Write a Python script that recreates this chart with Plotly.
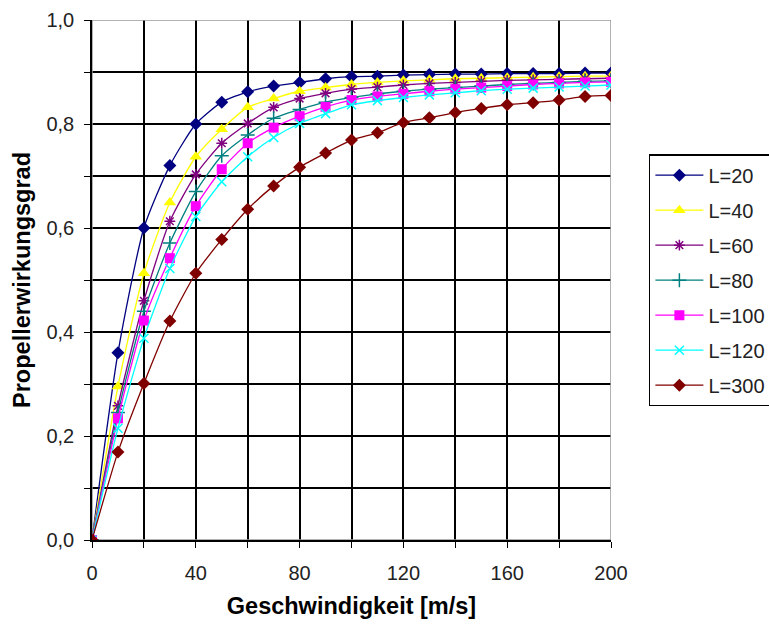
import plotly.graph_objects as go

speed = [0, 10, 20, 30, 40, 50, 60, 70, 80, 90, 100, 110, 120, 130, 140, 150, 160, 170, 180, 190, 200]

eta_L20 = [0, 0.36, 0.60, 0.72, 0.80, 0.842, 0.862, 0.873, 0.880, 0.887, 0.891, 0.892, 0.894, 0.895, 0.896, 0.896, 0.897, 0.897, 0.897, 0.898, 0.898]
eta_L40 = [0, 0.295, 0.513, 0.649, 0.737, 0.790, 0.832, 0.849, 0.863, 0.870, 0.876, 0.880, 0.883, 0.885, 0.887, 0.888, 0.889, 0.890, 0.891, 0.892, 0.892]
eta_L60 = [0, 0.258, 0.460, 0.613, 0.703, 0.763, 0.801, 0.832, 0.849, 0.859, 0.867, 0.871, 0.875, 0.878, 0.880, 0.882, 0.884, 0.885, 0.886, 0.887, 0.888]
eta_L80 = [0, 0.245, 0.440, 0.571, 0.670, 0.739, 0.779, 0.811, 0.828, 0.842, 0.851, 0.858, 0.863, 0.867, 0.870, 0.873, 0.876, 0.878, 0.880, 0.882, 0.883]
eta_L100 = [0, 0.234, 0.422, 0.542, 0.642, 0.713, 0.763, 0.793, 0.815, 0.833, 0.846, 0.853, 0.858, 0.863, 0.867, 0.870, 0.873, 0.876, 0.878, 0.880, 0.881]
eta_L120 = [0, 0.215, 0.388, 0.522, 0.622, 0.689, 0.737, 0.774, 0.801, 0.820, 0.837, 0.845, 0.851, 0.856, 0.860, 0.864, 0.867, 0.869, 0.871, 0.873, 0.875]
eta_L300 = [0, 0.169, 0.301, 0.421, 0.513, 0.578, 0.636, 0.681, 0.717, 0.744, 0.769, 0.783, 0.803, 0.812, 0.822, 0.830, 0.837, 0.841, 0.846, 0.853, 0.855]

series_names = ["L=20", "L=40", "L=60", "L=80", "L=100", "L=120", "L=300"]
series_values = [eta_L20, eta_L40, eta_L60, eta_L80, eta_L100, eta_L120, eta_L300]
colors = ["#000080", "#FFFF00", "#800080", "#008080", "#FF00FF", "#00FFFF", "#800000"]
symbols = ["diamond", "triangle-up", "asterisk-open", "cross-thin-open", "square", "x-thin-open", "diamond"]
sizes = [10, 11, 9, 10, 10, 9, 10]

x_ticks = [0, 40, 80, 120, 160, 200]
y_ticks = [0.0, 0.2, 0.4, 0.6, 0.8, 1.0]

FONT = "Liberation Sans, Arial, sans-serif"

fig = go.Figure()
for name, vals, col, sym, sz in zip(series_names, series_values, colors, symbols, sizes):
    open_sym = sym.endswith("-open")
    fig.add_trace(go.Scatter(
        x=speed, y=vals, name=name, legendgroup=name,
        mode="lines+markers",
        line=dict(color=col, width=1.3, shape="spline", smoothing=0.6),
        marker=dict(symbol=sym, size=sz, color=col,
                    line=dict(color=col, width=1.5 if open_sym else 0)),
    ))

fig.add_shape(type="rect", xref="x", yref="y", x0=0, x1=200, y0=0, y1=1,
              line=dict(color="#999999", width=1.5), layer="between")

fig.update_layout(
    width=769, height=624,
    margin=dict(l=92, r=158, t=20, b=84, autoexpand=False),
    paper_bgcolor="white", plot_bgcolor="white",
    separators=",.",
    font=dict(family=FONT, size=20, color="#222222"),
    showlegend=True,
    legend=dict(
        x=1.073, xanchor="left", y=0.742, yanchor="top",
        bordercolor="#000000", borderwidth=1.5,
        font=dict(family=FONT, size=20, color="#222222"),
        tracegroupgap=6, itemwidth=48,
        traceorder="grouped",
    ),
    xaxis=dict(
        range=[0, 200], tickvals=x_ticks, ticktext=[str(v) for v in x_ticks],
        showgrid=True, gridcolor="#000000", gridwidth=1.5,
        showline=True, linecolor="#000000", linewidth=1.5,
        ticks="outside", ticklen=6, tickcolor="#000000", tickwidth=1.3,
        ticklabelstandoff=8,
        minor=dict(dtick=20, tick0=0, showgrid=True, gridcolor="#000000", gridwidth=1.5,
                   ticks="outside", ticklen=6, tickcolor="#000000", tickwidth=1.3),
        zeroline=False,
        tickfont=dict(size=20),
        title=dict(text="<b>Geschwindigkeit [m/s]</b>", font=dict(size=23.5, color="#000000"), standoff=15),
    ),
    yaxis=dict(
        range=[0, 1.0], tickvals=y_ticks, tickformat=".1f",
        showgrid=True, gridcolor="#000000", gridwidth=1.5,
        showline=True, linecolor="#000000", linewidth=1.5,
        ticks="outside", ticklen=6, tickcolor="#000000", tickwidth=1.3,
        ticklabelstandoff=6,
        minor=dict(dtick=0.1, tick0=0, showgrid=True, gridcolor="#000000", gridwidth=1.5,
                   ticks="outside", ticklen=6, tickcolor="#000000", tickwidth=1.3),
        zeroline=False,
        tickfont=dict(size=20),
        title=dict(text="<b>Propellerwirkungsgrad</b>", font=dict(size=23.5, color="#000000"), standoff=9),
    ),
)

fig.write_html("out.html")
